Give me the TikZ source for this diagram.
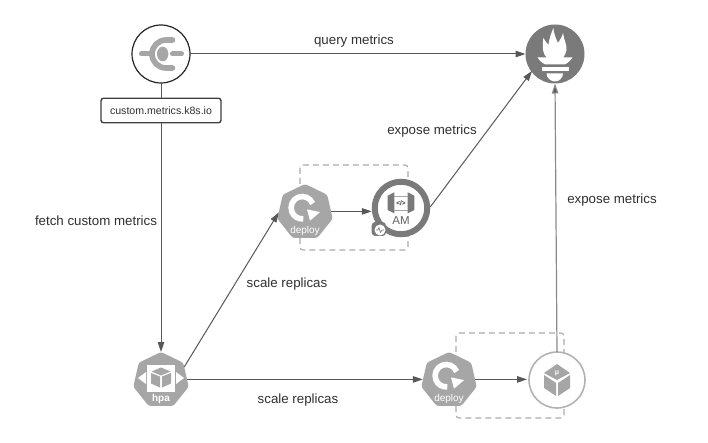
\documentclass[tikz,border=0pt]{standalone}
\usepackage{fontspec}
\setmainfont{Liberation Sans}
\usetikzlibrary{arrows.meta,shapes.geometric}
\definecolor{iconfill}{HTML}{A6A6A6}
\definecolor{darkfill}{HTML}{7A7A7A}
\definecolor{linecol}{HTML}{585858}
\definecolor{txtcol}{HTML}{303030}
\definecolor{dashcol}{HTML}{ABABAB}
\tikzset{
  x=1pt,y=-1pt,
  conn/.style={draw=linecol,line width=1pt,-{Triangle[length=10pt,width=6.5pt,fill=linecol]}},
  plain/.style={draw=linecol,line width=1pt},
  lbl/.style={text=txtcol,font=\fontsize{13.3}{15}\selectfont,inner sep=0pt},
  hepta/.style={regular polygon,regular polygon sides=7,minimum size=56.8pt,inner sep=0pt,outer sep=0pt,fill=iconfill,rounded corners=2.5pt},
  dashbox/.style={draw=dashcol,line width=1.1pt,dash pattern=on 6pt off 4pt,rounded corners=3pt},
  wlabel/.style={text=white,inner sep=0pt,font=\fontsize{10}{12}\selectfont},
  deployicon/.pic={
    \draw[white,line width=5.6pt,shift={(-2.7,-4.7)}] (22:11.2pt) arc[start angle=22,end angle=275,radius=11.2pt];
    \fill[white] (2,-3) -- (15,-0.3) -- (5,8.3) -- cycle;
    \node[wlabel] at (0,19) {deploy};
  }
}
\begin{document}
\begin{tikzpicture}
\useasboundingbox (0,0) rectangle (708,443);
\fill[white] (0,0) rectangle (708,443);

% dashed groups
\draw[dashbox] (300,165) rectangle (408,250);
\draw[dashbox] (456,333) rectangle (564,418);

% nodes
\node[circle,draw=black!85,line width=1.2pt,fill=white,minimum size=58pt,inner sep=0pt,outer sep=0pt] (cm) at (161,54) {};
\node[draw=black!75,line width=1.4pt,rounded corners=2.5pt,fill=white,minimum width=120pt,minimum height=24.5pt,inner sep=0pt,outer sep=0pt,text=txtcol,font=\fontsize{10.6}{13}\selectfont] (box) at (161,110.5) {custom.metrics.k8s.io};
\node[circle,fill=darkfill,minimum size=59pt,inner sep=0pt,outer sep=0pt] (prom) at (555,54) {};
\node[hepta] (dep1) at (305,212.4) {};
\node[circle,draw=darkfill,line width=6pt,fill=white,minimum size=52.5pt,inner sep=0pt,outer sep=3pt] (am) at (401,208) {};
\node[hepta] (dep2) at (449,380.4) {};
\node[circle,draw=iconfill!85!white,line width=1.6pt,fill=white,minimum size=56pt,inner sep=0pt,outer sep=0pt] (mu) at (557,380) {};
\node[hepta] (hpa) at (161,380.4) {};

% connectors
\draw[conn] (cm) -- (prom);
\draw[plain] (cm) -- (box);
\draw[conn] (box) -- (hpa);
\draw[conn] (hpa.30) -- (dep1.180);
\draw[conn] ([yshift=1pt]hpa.east) -- ([yshift=1pt]dep2.west);
\draw[conn] ([yshift=1pt]dep1.east) -- ([yshift=1pt]dep1.east -| am.west);
\draw[conn,shorten >=-1pt] (am.2) -- (prom.217);
\draw[conn] ([yshift=1pt]dep2.east) -- ([yshift=1pt,xshift=-2pt]dep2.east -| mu.west);
\draw[draw=linecol!70!white,line width=1.2pt,-{Triangle[length=10pt,width=6.5pt,fill=linecol]}] (mu.90) -- (prom.270);

% cm icon
\begin{scope}[shift={(161,54)}]
  \draw[iconfill,line width=5.6pt,line cap=round] (11.5,-14) -- (5,-14) arc[start angle=90,end angle=270,radius=14pt] -- (11.5,14);
  \fill[iconfill] (1.7,0) ellipse[x radius=5.7pt,y radius=7.3pt];
  \draw[iconfill,line width=5pt,line cap=round] (-19.5,0) -- (-10,0);
  \draw[iconfill,line width=5pt,line cap=round] (11.5,0) -- (20.5,0);
\end{scope}

% prometheus icon
\begin{scope}[shift={(555,54)},white]
  \fill (-8,4) .. controls (-12,0) and (-13,-5) .. (-11.7,-16) .. controls (-10,-13) and (-8,-11) .. (-6.5,-9)
    .. controls (-6,-15) and (-4,-20) .. (-1.7,-26) .. controls (-1,-20) and (1,-15) .. (3,-11)
    .. controls (5,-14) and (7,-17) .. (8,-21) .. controls (9,-14) and (12,-9) .. (11.5,-4)
    .. controls (11,-1) and (10,1) .. (8,4) -- cycle;
  \fill (-17.5,3.3) -- (17.5,3.3) .. controls (16,6) and (13,9) .. (10,10.3) -- (-10,10.3) .. controls (-13,9) and (-16,6) .. (-17.5,3.3) -- cycle;
  \fill (-13.5,12.7) rectangle (14.2,17);
  \fill (-8.5,19.5) -- (8,19.5) .. controls (8,24) and (4,27.5) .. (0,27.5) .. controls (-4,27.5) and (-8.5,24) .. (-8.5,19.5) -- cycle;
\end{scope}

% deploy icons
\pic at (305,212.4) {deployicon};
\pic at (449,380.4) {deployicon};

% AM icon
\begin{scope}[shift={(401,208)}]
  \fill[darkfill] (-13.3,-12.3) -- (-6.7,-15.7) -- (-6.7,5.3) -- (-13.3,2) -- cycle;
  \fill[darkfill] (13.3,-12.3) -- (6.7,-15.7) -- (6.7,5.3) -- (13.3,2) -- cycle;
  \draw[iconfill,line width=.6pt] (-6.7,-12) -- (6.7,-12) (-6.7,2) -- (6.7,2);
  \node[text=txtcol,inner sep=0pt,font=\fontsize{6.5}{7}\selectfont\bfseries] at (0,-5) {</>};
  \node[text=darkfill!80!black,inner sep=0pt,font=\fontsize{11.5}{14}\selectfont] at (0,13) {AM};
  \fill[darkfill,rounded corners=3.5pt] (-29.3,14) rectangle (-15,28);
  \fill[white] (-21,22) circle (5.5pt);
  \draw[darkfill,line width=.6pt] (-25,22) -- (-23,22) -- (-22,19.5) -- (-20.5,24.5) -- (-19,22) -- (-17,22);
\end{scope}

% mu icon
\begin{scope}[shift={(557,380)}]
  \fill[iconfill] (0,-16) -- (13,-7) -- (0,0) -- (-13,-7) -- cycle;
  \fill[iconfill] (-13,-5) -- (-1,3) -- (-1,16) -- (-13,8) -- cycle;
  \fill[iconfill] (13,-5) -- (1,3) -- (1,16) -- (13,8) -- cycle;
  \node[text=white,inner sep=0pt,font=\fontsize{7}{8}\selectfont\bfseries] at (0,-7) {μ};
\end{scope}

% hpa icon
\begin{scope}[shift={(161,380)}]
  \fill[white] (-14,-15) rectangle (14,12);
  \fill[white] (-23,-2) -- (-15,-8) -- (-15,4) -- cycle;
  \fill[white] (23,-2) -- (15,-8) -- (15,4) -- cycle;
  \fill[iconfill] (0,-12.5) -- (9.5,-8.5) -- (0,-4.5) -- (-9.5,-8.5) -- cycle;
  \fill[iconfill] (-10,-7) -- (-1,-3.5) -- (-1,7.5) -- (-10,3.5) -- cycle;
  \fill[iconfill] (10,-7) -- (1,-3.5) -- (1,7.5) -- (10,3.5) -- cycle;
  \node[wlabel,font=\fontsize{10}{12}\selectfont\bfseries] at (0,19) {hpa};
\end{scope}

% labels
\node[lbl] (l1) at (354,41) {query metrics};
\node[lbl] (l2) at (432,131) {expose metrics};
\node[lbl] (l3) at (612,200) {expose metrics};
\node[lbl] (l4) at (96,221) {fetch custom metrics};
\node[lbl] (l5) at (287,284) {scale replicas};
\node[lbl] (l6) at (298,400) {scale replicas};
\end{tikzpicture}
\end{document}
